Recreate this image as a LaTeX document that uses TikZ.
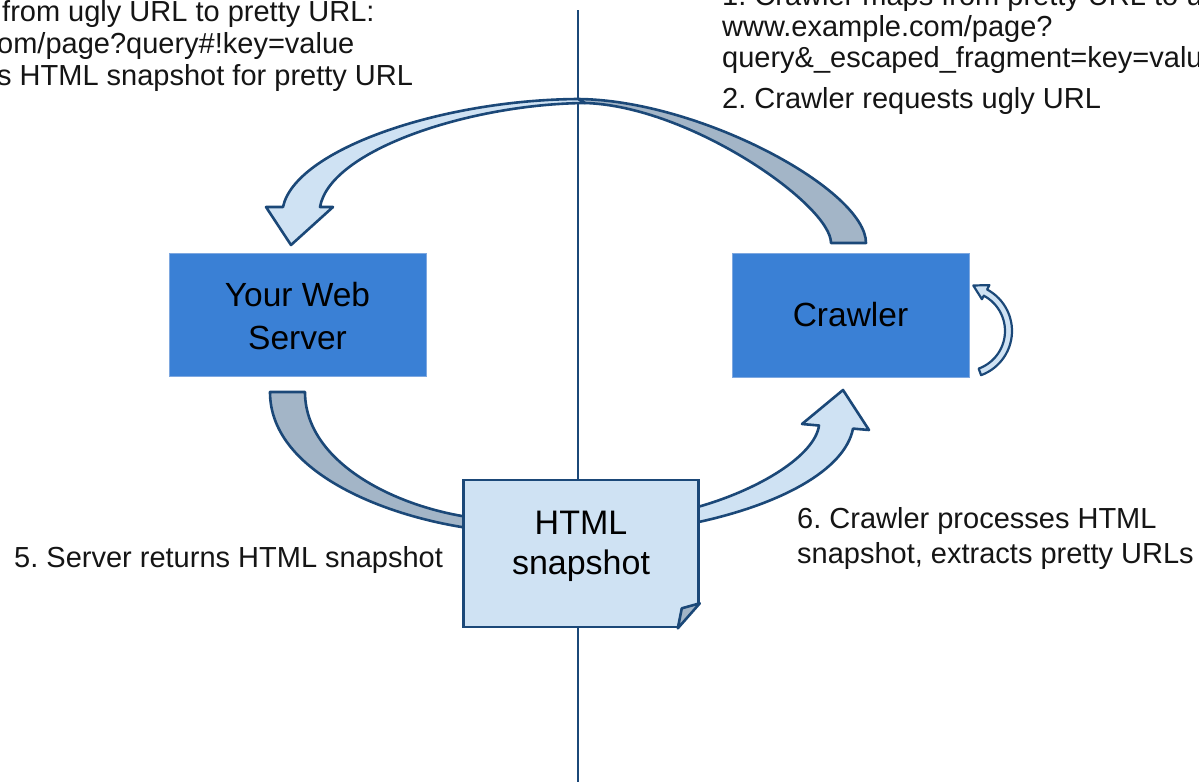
\documentclass[tikz,border=0pt]{standalone}
\usepackage{fontspec}
\setmainfont{Liberation Sans}
\usetikzlibrary{calc}
\frenchspacing
\definecolor{boxblue}{HTML}{3A80D5}
\definecolor{boxedge}{HTML}{7EA8E0}
\definecolor{lightfill}{HTML}{CFE2F3}
\definecolor{grayfill}{HTML}{A3B5C7}
\definecolor{darkblue}{HTML}{1B4878}
\definecolor{txt}{HTML}{151515}
\begin{document}
\begin{tikzpicture}[x=1pt,y=-1pt,
  annot/.style={anchor=base west, inner sep=0pt, text=txt, font=\fontsize{29}{32}\selectfont},
  bluebox/.style={draw=boxedge, line width=1pt, fill=boxblue, inner sep=0pt, text=black, font=\fontsize{33.5}{43}\selectfont},
  bandarrow/.style={draw=darkblue, line width=2.6pt, line join=round},
  divider/.style={draw=darkblue, line width=2pt}]
\path[use as bounding box, fill=white] (0,0) rectangle (1199,782);
\clip (0,0) rectangle (1199,782);

% divider
\draw[divider] (578,10) -- (578,782);

% top arrow: crawler -> server
\draw[bandarrow, fill=grayfill] (866,243) .. controls (866,190) and (700,100) .. (578,99)
  -- (585,103) .. controls (690,106) and (831,205) .. (831,243) -- cycle;
\draw[bandarrow, fill=lightfill] (578,99) .. controls (440,100) and (295,150) .. (283,207)
  -- (266,207) -- (291,245) -- (333,207) -- (320,207)
  .. controls (330,150) and (470,104) .. (585,103) -- cycle;

% bottom-left arrow: server -> snapshot
\draw[bandarrow, fill=grayfill] (270,392) .. controls (270,470) and (380,515) .. (468,528)
  -- (468,517) .. controls (390,505) and (305,460) .. (305,392) -- cycle;

% bottom-right arrow: snapshot -> crawler
\draw[bandarrow, fill=lightfill] (694,508) .. controls (760,490) and (815,455) .. (819,425.5)
  -- (802,424) -- (843,390) -- (869,430) -- (853,428.6)
  .. controls (845,470) and (780,505) .. (694,523) -- cycle;

% self loop on crawler
\draw[bandarrow, line width=2.2pt, fill=lightfill]
  plot[smooth, domain=-70:62, samples=30] ({965+47*cos(\x)},{331-47*sin(\x)})
  -- (989.4,285.1) -- (973.3,285.5) -- (981.9,299.2)
  -- plot[smooth, domain=62:-70, samples=30] ({965+40*cos(\x)},{331-40*sin(\x)}) -- cycle;

% boxes
\node[bluebox, minimum width=257pt, minimum height=123pt, text height=30pt, text depth=47pt] (server) at (297.5,314.5)
  {\begin{tabular}[t]{@{}c@{}}Your Web\\Server\end{tabular}};
\node[bluebox, minimum width=237pt, minimum height=124pt] (crawler) at (850.5,315) {Crawler};

\node[draw=darkblue, line width=2.6pt, fill=lightfill, minimum width=235pt, minimum height=147pt,
  inner sep=0pt, text=black, font=\fontsize{34}{40}\selectfont, text height=30pt, text depth=69pt] (snap) at (581,553.5)
  {\begin{tabular}[t]{@{}c@{}}HTML\\snapshot\end{tabular}};
\fill[white] ($(snap.south east)+(2.2,-27.5)$) -- ($(snap.south east)+(5,5)$) -- ($(snap.south east)+(-24.2,2.5)$) -- cycle;
\draw[bandarrow, fill=grayfill] ($(snap.south east)+(0,-25)$) -- ($(snap.south east)+(-18,-20)$)
  -- ($(snap.south east)+(-22,0)$) -- cycle;

% texts
\node[annot] (t34) at (-3,21) {\begin{tabular}[t]{@{}l@{}}\hspace{5pt}from ugly URL to pretty URL:\\om/page?query\#!key=value\\s HTML snapshot for pretty URL\end{tabular}};
\node[annot, font=\fontsize{29}{31}\selectfont] (t12) at (722,5) {\begin{tabular}[t]{@{}l@{}}1. Crawler maps from pretty URL to u\\www.example.com/page?\\query\&\_escaped\_fragment=key=valu\\[10pt]2. Crawler requests ugly URL\end{tabular}};
\node[annot] (t5) at (14,567) {5. Server returns HTML snapshot};
\node[annot, font=\fontsize{29}{35}\selectfont] (t6) at (797,528) {\begin{tabular}[t]{@{}l@{}}6. Crawler processes HTML\\snapshot, extracts pretty URLs\end{tabular}};
\end{tikzpicture}
\end{document}
